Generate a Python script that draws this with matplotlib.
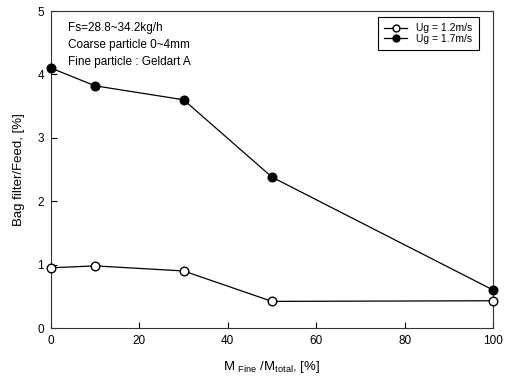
import matplotlib
matplotlib.use('Agg')
import matplotlib.pyplot as plt

plt.rcParams['font.family'] = ['Liberation Sans', 'DejaVu Sans']
plt.rcParams['mathtext.default'] = 'regular'

# data
fine_fraction = [0, 10, 30, 50, 100]
ug_12 = [0.95, 0.98, 0.90, 0.42, 0.43]
ug_17 = [4.10, 3.82, 3.60, 2.38, 0.60]

fig = plt.figure(figsize=(5.09, 3.8), dpi=100)
ax = fig.add_axes([0.1002, 0.1368, 0.8684, 0.8342])

ax.plot(fine_fraction, ug_12, '-o', color='black', mfc='white', mec='black',
        ms=6.2, lw=0.9, label='Ug = 1.2m/s', clip_on=False, zorder=3)
ax.plot(fine_fraction, ug_17, '-o', color='black', mfc='black', mec='black',
        ms=6.2, lw=0.9, label='Ug = 1.7m/s', clip_on=False, zorder=3)

ax.set_xlim(0, 100)
ax.set_ylim(0, 5)
ax.set_xticks([0, 20, 40, 60, 80, 100])
ax.set_yticks([0, 1, 2, 3, 4, 5])
ax.tick_params(direction='in', length=4, width=0.8, labelsize=8.5, pad=5)
for s in ax.spines.values():
    s.set_linewidth(0.8)
    s.set_color('#333333')

ax.set_xlabel('M $_{Fine}$ /M$_{total}$, [%]', fontsize=9.5, labelpad=9)
ax.set_ylabel('Bag filter/Feed, [%]', fontsize=9.5, labelpad=9)

ax.text(0.039, 0.965, 'Fs=28.8~34.2kg/h\nCoarse particle 0~4mm\nFine particle : Geldart A',
        transform=ax.transAxes, fontsize=8.5, va='top', ha='left', linespacing=1.55)

leg = ax.legend(loc='upper right', bbox_to_anchor=(0.968, 0.981), fontsize=7.5,
                fancybox=False, edgecolor='black', framealpha=1, markerscale=0.8,
                handlelength=2.2, handletextpad=0.9, borderpad=0.6,
                labelspacing=0.05, borderaxespad=0)
leg.get_frame().set_linewidth(0.8)

fig.savefig('out.png', dpi=100)
